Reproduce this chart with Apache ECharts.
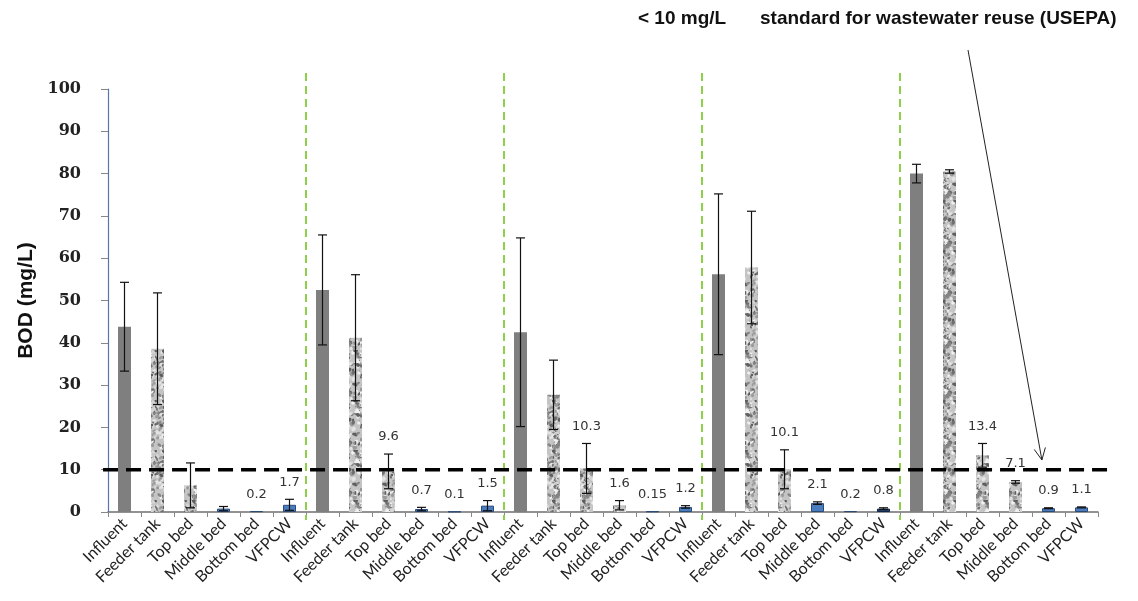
<!DOCTYPE html>
<html><head><meta charset="utf-8">
<script src="https://cdn.jsdelivr.net/npm/echarts@6/dist/echarts.min.js"></script>
<style>html,body{margin:0;padding:0;background:#fff}#c{width:1138px;height:601px}</style>
</head><body><div id="c"></div>
<script>
const stages = ['Influent', 'Feeder tank', 'Top bed', 'Middle bed', 'Bottom bed', 'VFPCW'];
const categories = [].concat(stages, stages, stages, stages, stages);
const values = [
  43.8, 38.6, 6.3, 0.8, 0.2, 1.7,
  52.5, 41.2, 9.6, 0.7, 0.1, 1.5,
  42.5, 27.7, 10.3, 1.6, 0.15, 1.2,
  56.2, 57.8, 10.1, 2.1, 0.2, 0.8,
  80.0, 80.5, 13.4, 7.1, 0.9, 1.1
];
const errors = [
  10.5, 13.2, 5.3, 0.5, 0, 1.3,
  13.0, 14.9, 4.1, 0.4, 0, 1.2,
  22.3, 8.2, 5.9, 1.1, 0, 0.3,
  19.0, 13.3, 4.6, 0.3, 0, 0.2,
  2.2, 0.4, 2.8, 0.3, 0.1, 0.1
];
const labels = [
  '', '', '', '', '0.2', '1.7',
  '', '', '9.6', '0.7', '0.1', '1.5',
  '', '', '10.3', '1.6', '0.15', '1.2',
  '', '', '10.1', '2.1', '0.2', '0.8',
  '', '', '13.4', '7.1', '0.9', '1.1'
];
const barKinds = [
  'solid', 'texture', 'texture', 'blue', 'blue', 'blue',
  'solid', 'texture', 'texture', 'blue', 'blue', 'blue',
  'solid', 'texture', 'texture', 'texture', 'blue', 'blue',
  'solid', 'texture', 'texture', 'blue', 'blue', 'navy',
  'solid', 'texture', 'texture', 'texture', 'blue', 'blue'
];
const separators = [6, 12, 18, 24];
const threshold = 10;
const yMin = 0, yMax = 100, yStep = 10;
const noteLeft = '< 10 mg/L';
const noteRight = 'standard for wastewater reuse (USEPA)';
const arrowTarget = [28.3, 12.3];

// speckled texture
function makeTexture() {
  const W = 30, H = 50;
  const cv = document.createElement('canvas');
  cv.width = W; cv.height = H;
  const g = cv.getContext('2d');
  g.fillStyle = '#c4c4c4'; g.fillRect(0, 0, W, H);
  let s = 987654;
  const rnd = () => { s = (s * 1103515245 + 12345) & 0x7fffffff; return s / 0x7fffffff; };
  const shades = ['#6f6f6f', '#858585', '#9a9a9a', '#e4e4e4', '#f0f0f0', '#d6d6d6', '#5e5e5e'];
  for (let i = 0; i < 170; i++) {
    g.fillStyle = shades[Math.floor(rnd() * shades.length)];
    g.beginPath();
    g.ellipse(rnd() * W, rnd() * H, 0.8 + rnd() * 1.8, 0.8 + rnd() * 1.4, rnd() * 3, 0, Math.PI * 2);
    g.fill();
  }
  return cv;
}
const tex = makeTexture();
const kindStyle = {
  solid: { color: '#7f7f7f' },
  texture: { color: { image: tex, repeat: 'repeat' } },
  blue: { color: '#4a7cc0', borderColor: '#2a4a78', borderWidth: 1 },
  navy: { color: '#1f3d6e', borderColor: '#10244a', borderWidth: 1 }
};

const barData = values.map((v, i) => ({ value: v, itemStyle: kindStyle[barKinds[i]] }));
const errData = values.map((v, i) => [i, v, errors[i]]);

const chart = echarts.init(document.getElementById('c'), null, { renderer: 'canvas' });
chart.setOption({
  animation: false,
  backgroundColor: '#fff',
  grid: { left: 108, right: 40, top: 89, bottom: 89 },
  xAxis: [{
    type: 'category', data: categories, boundaryGap: true,
    axisLine: { lineStyle: { color: '#6f6f6f', width: 1.5 } },
    axisTick: { show: true, length: 5, lineStyle: { color: '#888' } },
    axisLabel: { interval: 0, rotate: 45, margin: 9, fontFamily: 'Lato', fontSize: 16, color: '#222' }
  }, {
    type: 'value', min: 0, max: categories.length, show: false
  }],
  yAxis: [{
    type: 'value', min: yMin, max: yMax, interval: yStep,
    name: 'BOD (mg/L)', nameLocation: 'middle', nameGap: 58,
    nameTextStyle: { fontFamily: 'Liberation Sans', fontWeight: 'bold', fontSize: 21, color: '#111' },
    axisLine: { show: true, lineStyle: { color: '#5677a6', width: 1.2 } },
    axisTick: { show: true, length: 7, lineStyle: { color: '#888' } },
    splitLine: { show: false },
    axisLabel: { margin: 27, fontFamily: 'DejaVu Serif', fontWeight: 'bold', fontSize: 16, color: '#222' }
  }],
  series: [
    {
      type: 'bar', data: barData, barWidth: 13, xAxisIndex: 0, yAxisIndex: 0, z: 2
    },
    {
      type: 'custom', xAxisIndex: 0, yAxisIndex: 0, z: 5, clip: false,
      data: errData,
      renderItem: function (params, api) {
        const i = api.value(0), v = api.value(1), e = api.value(2);
        const children = [];
        const top = api.coord([i, v + e]);
        const bot = api.coord([i, v - e]);
        const base = api.coord([i, 0]);
        const ls = { stroke: '#111', lineWidth: 1.2 };
        if (e > 0) {
          children.push({ type: 'line', shape: { x1: top[0], y1: top[1], x2: bot[0], y2: bot[1] }, style: ls });
          children.push({ type: 'line', shape: { x1: top[0] - 4.5, y1: top[1], x2: top[0] + 4.5, y2: top[1] }, style: ls });
          children.push({ type: 'line', shape: { x1: bot[0] - 4.5, y1: bot[1], x2: bot[0] + 4.5, y2: bot[1] }, style: ls });
        }
        const txt = labels[params.dataIndex];
        if (txt) {
          const ly = Math.min(top[1] - 17, base[1] - 14);
          children.push({ type: 'text', style: { text: txt, x: top[0], y: ly, align: 'center', verticalAlign: 'middle', fontFamily: 'DejaVu Sans', fontSize: 13, fill: '#333' } });
        }
        return { type: 'group', children: children };
      }
    },
    {
      type: 'custom', xAxisIndex: 1, yAxisIndex: 0, z: 4, clip: false,
      data: separators.map(s => [s]),
      renderItem: function (params, api) {
        const s = api.value(0);
        const a = api.coord([s, 103.8]);
        const b = api.coord([s, -1.9]);
        return { type: 'line', shape: { x1: a[0], y1: a[1], x2: b[0], y2: b[1] }, style: { stroke: '#8fd04a', lineWidth: 2, lineDash: [8, 5] } };
      }
    },
    {
      type: 'custom', xAxisIndex: 1, yAxisIndex: 0, z: 6, clip: false,
      data: [[threshold]],
      renderItem: function (params, api) {
        const t = api.value(0);
        const a = api.coord([-0.15, t]);
        const b = api.coord([categories.length + 0.4, t]);
        return { type: 'line', shape: { x1: a[0], y1: a[1], x2: b[0], y2: b[1] }, style: { stroke: '#000', lineWidth: 3.5, lineDash: [15, 8] } };
      }
    }
  ]
});

const tip = chart.convertToPixel({ xAxisIndex: 1, yAxisIndex: 0 }, arrowTarget);
const start = [968, 50];
const ang = Math.atan2(tip[1] - start[1], tip[0] - start[0]);
const hl = 13, ha = 0.45;
chart.setOption({
  graphic: [
    { type: 'text', left: 638, top: 9, style: { text: noteLeft, fontFamily: 'Liberation Sans', fontWeight: 'bold', fontSize: 19, fill: '#111' } },
    { type: 'text', left: 760, top: 9, style: { text: noteRight, fontFamily: 'Liberation Sans', fontWeight: 'bold', fontSize: 19, fill: '#111' } },
    { type: 'line', shape: { x1: start[0], y1: start[1], x2: tip[0], y2: tip[1] }, style: { stroke: '#222', lineWidth: 1 } },
    { type: 'polyline', shape: { points: [
      [tip[0] - hl * Math.cos(ang - ha), tip[1] - hl * Math.sin(ang - ha)],
      [tip[0], tip[1]],
      [tip[0] - hl * Math.cos(ang + ha), tip[1] - hl * Math.sin(ang + ha)]
    ] }, style: { stroke: '#222', lineWidth: 1, fill: null } }
  ]
});
</script></body></html>
